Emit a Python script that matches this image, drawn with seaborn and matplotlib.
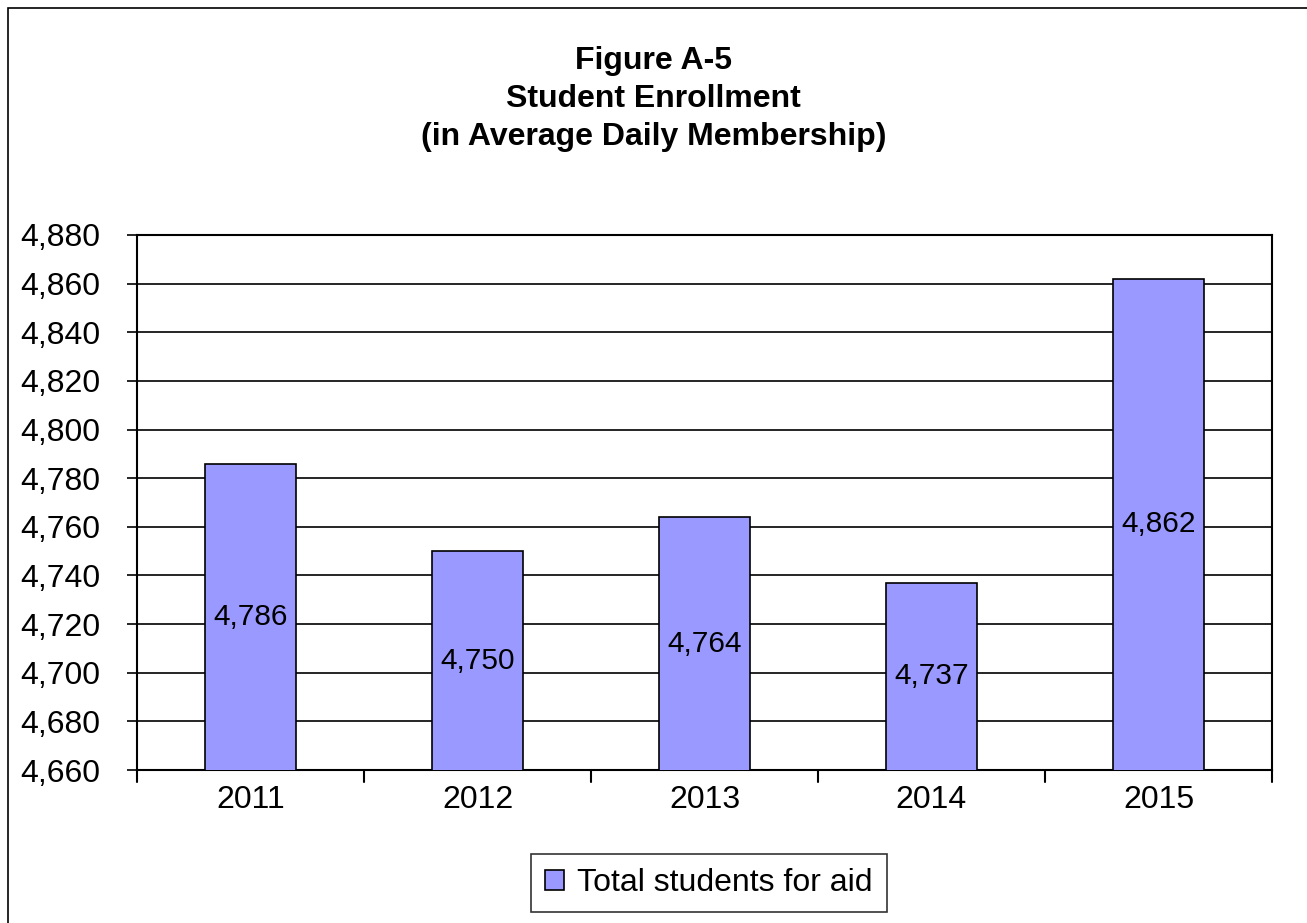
import matplotlib
matplotlib.use("Agg")
import matplotlib.pyplot as plt
import seaborn as sns
import pandas as pd
from matplotlib.patches import Rectangle, Patch
from matplotlib.ticker import FuncFormatter, MultipleLocator

years = ["2011", "2012", "2013", "2014", "2015"]
students = [4786, 4750, 4764, 4737, 4862]
series_name = "Total students for aid"
title = "Figure A-5\nStudent Enrollment\n(in Average Daily Membership)"

sns.set_style("white")
plt.rcParams["font.family"] = ["Liberation Sans", "DejaVu Sans"]
plt.rcParams["text.color"] = "black"
plt.rcParams["xtick.color"] = "black"
plt.rcParams["ytick.color"] = "black"

df = pd.DataFrame({"year": years, "value": students})

fig = plt.figure(figsize=(13.07, 9.23), dpi=100)
ax = fig.add_axes([137/1307, 1-770/923, (1272-137)/1307, (770-235)/923])

bar_color = "#9999FF"
sns.barplot(data=df, x="year", y="value", color=bar_color, width=0.4,
            edgecolor="black", linewidth=1.2, ax=ax, zorder=3, saturation=1)

ymin, ymax = 4660, 4880
ax.set_ylim(ymin, ymax)
ax.set_xlim(-0.5, 4.5)
ax.yaxis.set_major_locator(MultipleLocator(20))
ax.yaxis.set_major_formatter(FuncFormatter(lambda v, p: f"{int(v):,}"))
ax.grid(axis="y", color="black", linewidth=1.2, zorder=0)
ax.set_axisbelow(True)
ax.set_xlabel("")
ax.set_ylabel("")

# ticks
ax.set_xticks([i for i in range(5)])
ax.set_xticklabels(years, fontsize=23)
ax.tick_params(axis="x", length=0, pad=11, labelcolor="black")
for b in [i - 0.5 for i in range(6)]:
    ax.plot([b, b], [0, -0.022], transform=ax.get_xaxis_transform(),
            color="black", linewidth=1.5, clip_on=False)
ax.tick_params(axis="y", labelsize=23, length=7.5, width=1.2, color="black",
               left=True, direction="out", pad=19, labelcolor="black")

for s in ax.spines.values():
    s.set_color("black")
    s.set_linewidth(1.5)

# value labels centered in bars
for i, v in enumerate(students):
    ax.text(i, (ymin + v) / 2, f"{v:,}", ha="center", va="center",
            fontsize=21.5, color="black", zorder=5)

fig.text(0.5, 1 - 99/923, title, ha="center", va="center", fontsize=23,
         fontweight="bold", linespacing=1.33, color="black")

leg = fig.legend(handles=[Patch(facecolor=bar_color, edgecolor="black",
                                linewidth=1.2, label=series_name)],
                 loc="center", bbox_to_anchor=(709/1307, 1 - 883/923),
                 fontsize=23, frameon=True, fancybox=False,
                 handlelength=0.6, handleheight=0.6, handletextpad=0.4,
                 borderpad=0.45, borderaxespad=0)
leg.get_frame().set_edgecolor("black")
leg.get_frame().set_linewidth(1.2)
for t in leg.get_texts():
    t.set_color("black")

# figure border
fig.patches.append(Rectangle((8/1307, -0.01), 1.05, 1 - 8/923 + 0.01,
                             transform=fig.transFigure, fill=False,
                             edgecolor="black", linewidth=1.2))

fig.savefig("out.png", dpi=100)
